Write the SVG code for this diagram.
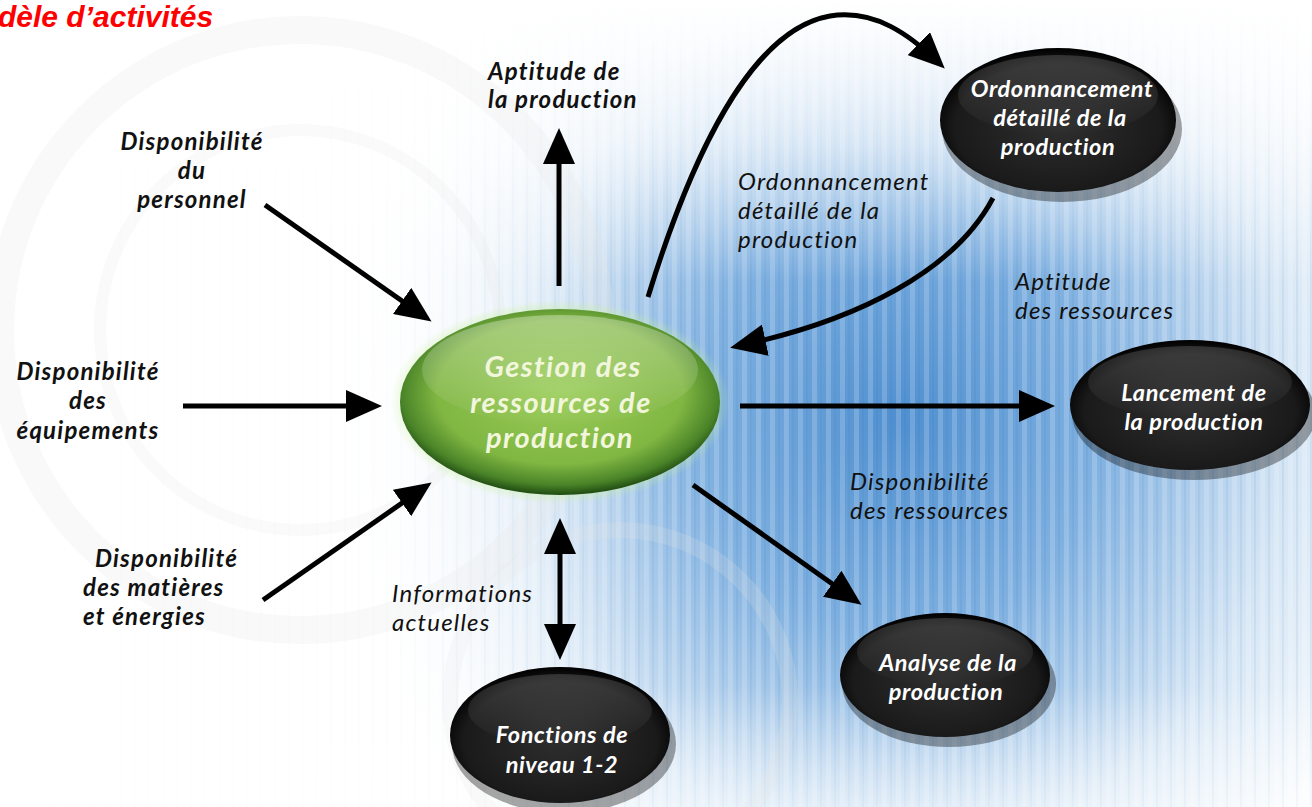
<svg xmlns="http://www.w3.org/2000/svg" width="1312" height="807" viewBox="0 0 1312 807">
<defs>
<radialGradient id="bgBlue" cx="900" cy="420" r="620" gradientUnits="userSpaceOnUse" gradientTransform="translate(900 420) scale(0.9 1) translate(-900 -420)">
<stop offset="0" stop-color="#4f8fd0"/>
<stop offset="0.35" stop-color="#7fb0e0"/>
<stop offset="0.7" stop-color="#d6e6f5"/>
<stop offset="1" stop-color="#ffffff"/>
</radialGradient>
<linearGradient id="leftFade" x1="0" y1="0" x2="1" y2="0">
<stop offset="0" stop-color="#ffffff" stop-opacity="1"/>
<stop offset="0.3" stop-color="#ffffff" stop-opacity="0.85"/>
<stop offset="0.5" stop-color="#ffffff" stop-opacity="0"/>
</linearGradient>
<linearGradient id="topFade" x1="0" y1="0" x2="0" y2="1">
<stop offset="0" stop-color="#ffffff" stop-opacity="1"/>
<stop offset="0.18" stop-color="#ffffff" stop-opacity="0.6"/>
<stop offset="0.35" stop-color="#ffffff" stop-opacity="0"/>
<stop offset="0.85" stop-color="#ffffff" stop-opacity="0"/>
<stop offset="1" stop-color="#ffffff" stop-opacity="0.5"/>
</linearGradient>
<pattern id="streaks" width="14" height="807" patternUnits="userSpaceOnUse">
<rect x="0" y="0" width="5" height="807" fill="#ffffff" opacity="0.18"/>
<rect x="8" y="0" width="2" height="807" fill="#2a5f9a" opacity="0.08"/>
</pattern>
<radialGradient id="greenFill" cx="0.5" cy="0.45" r="0.55">
<stop offset="0" stop-color="#9acd5a"/>
<stop offset="0.7" stop-color="#80b642"/>
<stop offset="0.9" stop-color="#4a8428"/>
<stop offset="1" stop-color="#1f4a12"/>
</radialGradient>
<linearGradient id="greenShine" x1="0" y1="0" x2="0" y2="1">
<stop offset="0" stop-color="#ffffff" stop-opacity="0.55"/>
<stop offset="1" stop-color="#ffffff" stop-opacity="0"/>
</linearGradient>
<radialGradient id="greenGlow" cx="0.5" cy="0.5" r="0.5">
<stop offset="0.8" stop-color="#c8f0a0" stop-opacity="0.9"/>
<stop offset="1" stop-color="#c8f0a0" stop-opacity="0"/>
</radialGradient>
<radialGradient id="blackFill" cx="0.5" cy="0.55" r="0.55">
<stop offset="0" stop-color="#2e2e2e"/>
<stop offset="0.8" stop-color="#1a1a1a"/>
<stop offset="1" stop-color="#000000"/>
</radialGradient>
<linearGradient id="blackShine" x1="0" y1="0" x2="0" y2="1">
<stop offset="0" stop-color="#ffffff" stop-opacity="0.45"/>
<stop offset="1" stop-color="#ffffff" stop-opacity="0"/>
</linearGradient>
<marker id="ah" viewBox="0 0 36 32" markerWidth="36" markerHeight="32" refX="28" refY="16" orient="auto-start-reverse" markerUnits="userSpaceOnUse">
<path d="M0,0 L36,16 L0,32 Z" fill="#000"/>
</marker>
<style>
.lbl{font-family:Lato,"Open Sans","Liberation Sans",sans-serif;font-style:italic;font-weight:700;font-size:24px;letter-spacing:1.2px;fill:#111;}
.lbl2{font-family:Lato,"Open Sans","Liberation Sans",sans-serif;font-style:italic;font-weight:400;font-size:24px;letter-spacing:1.2px;fill:#111;}
.wt{font-family:Lato,"Open Sans","Liberation Sans",sans-serif;font-style:italic;font-weight:700;font-size:23.5px;letter-spacing:0.6px;fill:#ffffff;text-anchor:middle;}
.gt{font-family:Lato,"Open Sans","Liberation Sans",sans-serif;font-style:italic;font-weight:700;font-size:29px;letter-spacing:1.4px;fill:#f2f6dc;text-anchor:middle;}
.mid{text-anchor:middle;}
.conn{stroke:#000;stroke-width:5;fill:none;}
.ring{fill:none;stroke:#e6e6e6;}
</style>
</defs>

<g id="background">
<rect width="1312" height="807" fill="#ffffff"/>
<rect width="1312" height="807" fill="url(#bgBlue)"/>
<rect width="1312" height="807" fill="url(#streaks)"/>
<rect width="1312" height="807" fill="url(#leftFade)"/>
<rect width="1312" height="807" fill="url(#topFade)"/>
<circle class="ring" cx="300" cy="330" r="300" stroke-width="28" opacity="0.25"/>
<circle class="ring" cx="300" cy="330" r="200" stroke-width="12" opacity="0.2"/>
<circle class="ring" cx="620" cy="700" r="170" stroke-width="16" opacity="0.2"/>
</g>

<g id="title">
<text x="-2" y="27" font-family="'Liberation Sans',Arial,sans-serif" font-size="30" font-weight="700" font-style="italic" fill="#ff0000">dèle d’activités</text>
</g>

<g id="connectors">
<line class="conn" x1="559" y1="286" x2="559" y2="136" marker-end="url(#ah)"/>
<line class="conn" x1="265" y1="205" x2="425" y2="317" marker-end="url(#ah)"/>
<line class="conn" x1="183" y1="406" x2="374" y2="406" marker-end="url(#ah)"/>
<line class="conn" x1="263" y1="600" x2="425" y2="487" marker-end="url(#ah)"/>
<line class="conn" x1="560" y1="526" x2="560" y2="652" marker-start="url(#ah)" marker-end="url(#ah)"/>
<line class="conn" x1="740" y1="406" x2="1047" y2="406" marker-end="url(#ah)"/>
<line class="conn" x1="693" y1="485" x2="855" y2="600" marker-end="url(#ah)"/>
<path class="conn" d="M648,297 C690,160 750,30 830,16 C875,9 910,35 939,63" marker-end="url(#ah)"/>
<path class="conn" d="M993,198 C955,270 860,320 738,346" marker-end="url(#ah)"/>
</g>

<g id="node-gestion">
<ellipse cx="560" cy="402" rx="170" ry="102" fill="url(#greenGlow)"/>
<ellipse cx="560" cy="402" rx="160" ry="93" fill="url(#greenFill)"/>
<ellipse cx="560" cy="370" rx="138" ry="55" fill="url(#greenShine)" opacity="0.6"/>
<text class="gt" x="563" y="377">Gestion des</text>
<text class="gt" x="561" y="413">ressources de</text>
<text class="gt" x="560" y="448">production</text>
</g>

<g id="node-ordonnancement">
<ellipse cx="1060" cy="124" rx="120" ry="73" fill="#000" opacity="0.35" transform="translate(2 5)"/>
<ellipse cx="1058" cy="120" rx="118" ry="72" fill="url(#blackFill)"/>
<ellipse cx="1058" cy="95" rx="100" ry="40" fill="url(#blackShine)" opacity="0.35"/>
<text class="wt" x="1062" y="97">Ordonnancement</text>
<text class="wt" x="1060" y="126">détaillé de la</text>
<text class="wt" x="1058" y="155">production</text>
</g>

<g id="node-lancement">
<ellipse cx="1192" cy="409" rx="122" ry="66" fill="#000" opacity="0.35" transform="translate(2 5)"/>
<ellipse cx="1190" cy="405" rx="120" ry="65" fill="url(#blackFill)"/>
<ellipse cx="1190" cy="382" rx="102" ry="36" fill="url(#blackShine)" opacity="0.35"/>
<text class="wt" x="1194" y="401">Lancement de</text>
<text class="wt" x="1194" y="430">la production</text>
</g>

<g id="node-analyse">
<ellipse cx="947" cy="679" rx="107" ry="63" fill="#000" opacity="0.35" transform="translate(2 5)"/>
<ellipse cx="945" cy="675" rx="105" ry="62" fill="url(#blackFill)"/>
<ellipse cx="945" cy="652" rx="88" ry="34" fill="url(#blackShine)" opacity="0.35"/>
<text class="wt" x="948" y="671">Analyse de la</text>
<text class="wt" x="946" y="700">production</text>
</g>

<g id="node-fonctions">
<ellipse cx="562" cy="739" rx="112" ry="69" fill="#000" opacity="0.35" transform="translate(2 5)"/>
<ellipse cx="560" cy="735" rx="110" ry="68" fill="url(#blackFill)"/>
<ellipse cx="560" cy="710" rx="92" ry="36" fill="url(#blackShine)" opacity="0.35"/>
<text class="wt" x="562" y="743">Fonctions de</text>
<text class="wt" x="562" y="773">niveau 1-2</text>
</g>

<g id="labels">
<text class="lbl" x="488" y="80">Aptitude de</text>
<text class="lbl" x="488" y="108">la production</text>

<text class="lbl mid" x="192" y="150">Disponibilité</text>
<text class="lbl mid" x="192" y="179">du</text>
<text class="lbl mid" x="192" y="208">personnel</text>

<text class="lbl mid" x="88" y="380">Disponibilité</text>
<text class="lbl mid" x="88" y="409">des</text>
<text class="lbl mid" x="88" y="439">équipements</text>

<text class="lbl" x="95" y="567">Disponibilité</text>
<text class="lbl" x="83" y="596">des matières</text>
<text class="lbl" x="83" y="625">et énergies</text>

<text class="lbl2" x="738" y="190">Ordonnancement</text>
<text class="lbl2" x="738" y="219">détaillé de la</text>
<text class="lbl2" x="738" y="248">production</text>

<text class="lbl2" x="1015" y="290">Aptitude</text>
<text class="lbl2" x="1015" y="319">des ressources</text>

<text class="lbl2" x="850" y="490">Disponibilité</text>
<text class="lbl2" x="850" y="519">des ressources</text>

<text class="lbl2" x="392" y="602">Informations</text>
<text class="lbl2" x="392" y="631">actuelles</text>
</g>
</svg>
